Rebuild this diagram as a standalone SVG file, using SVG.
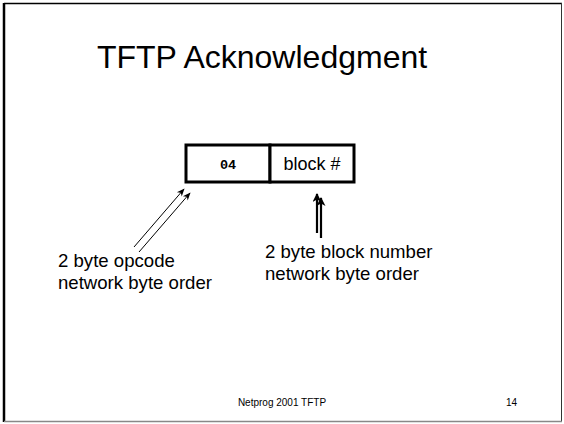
<svg xmlns="http://www.w3.org/2000/svg" width="564" height="424" viewBox="0 0 564 424">
  <defs>
    <marker id="head" viewBox="0 0 10 10" refX="9" refY="5" markerWidth="10" markerHeight="8" markerUnits="userSpaceOnUse" orient="auto">
      <path d="M0,1 L10,5 L0,9 L3,5 Z" fill="#000"/>
    </marker>
    <marker id="headBold" viewBox="0 0 10 10" refX="9" refY="5" markerWidth="11" markerHeight="9" markerUnits="userSpaceOnUse" orient="auto">
      <path d="M0,0 L10,5 L0,10 L3,5 Z" fill="#000"/>
    </marker>
  </defs>
  <style>
    .sans { font-family: "Liberation Sans", Arial, sans-serif; fill: #000; }
    .note { font-size: 18.6px; }
    .mono { font-family: "Liberation Mono", "Courier New", monospace; font-weight: bold; fill: #000; }
    .field { fill: #fff; stroke: #000; stroke-width: 3; }
    .thin { stroke: #000; stroke-width: 1; fill: none; }
    .thick { stroke: #000; stroke-width: 2.2; fill: none; }
  </style>

  <!-- slide frame -->
  <rect x="0" y="0" width="564" height="424" fill="#fff"/>
  <line x1="4" y1="3.5" x2="562" y2="3.5" stroke="#000" stroke-width="1.5"/>
  <line x1="4" y1="3" x2="4" y2="422" stroke="#000" stroke-width="2.5"/>
  <line x1="561.5" y1="3" x2="561.5" y2="422" stroke="#333" stroke-width="1"/>
  <line x1="4" y1="421.5" x2="562" y2="421.5" stroke="#888" stroke-width="1.5"/>

  <!-- title -->
  <text class="sans" x="262" y="68" font-size="32" text-anchor="middle">TFTP Acknowledgment</text>

  <!-- packet fields -->
  <g id="opcode">
    <rect class="field" x="186" y="145" width="84" height="37"/>
    <text class="mono" x="228" y="169" font-size="13.5" text-anchor="middle">04</text>
  </g>
  <g id="block">
    <rect class="field" x="270" y="145" width="84" height="37"/>
    <text class="sans" x="312" y="170" font-size="18" text-anchor="middle">block #</text>
  </g>

  <!-- pointer arrows -->
  <g id="connectors">
    <line class="thin" x1="134" y1="247" x2="184" y2="189" marker-end="url(#head)"/>
    <line class="thin" x1="139" y1="252" x2="190" y2="193" marker-end="url(#head)"/>
    <line class="thick" x1="317" y1="233" x2="317" y2="194" marker-end="url(#headBold)"/>
    <line class="thick" x1="321" y1="238" x2="321" y2="198" marker-end="url(#headBold)"/>
  </g>

  <!-- annotations -->
  <g id="opcode-note">
    <text class="sans note" x="58" y="267">2 byte opcode</text>
    <text class="sans note" x="58" y="289">network byte order</text>
  </g>
  <g id="block-note">
    <text class="sans note" x="265" y="258">2 byte block number</text>
    <text class="sans note" x="265" y="280">network byte order</text>
  </g>

  <!-- footer -->
  <text class="sans" x="282" y="406" font-size="10" text-anchor="middle">Netprog 2001 TFTP</text>
  <text class="sans" x="506" y="406" font-size="10">14</text>
</svg>
